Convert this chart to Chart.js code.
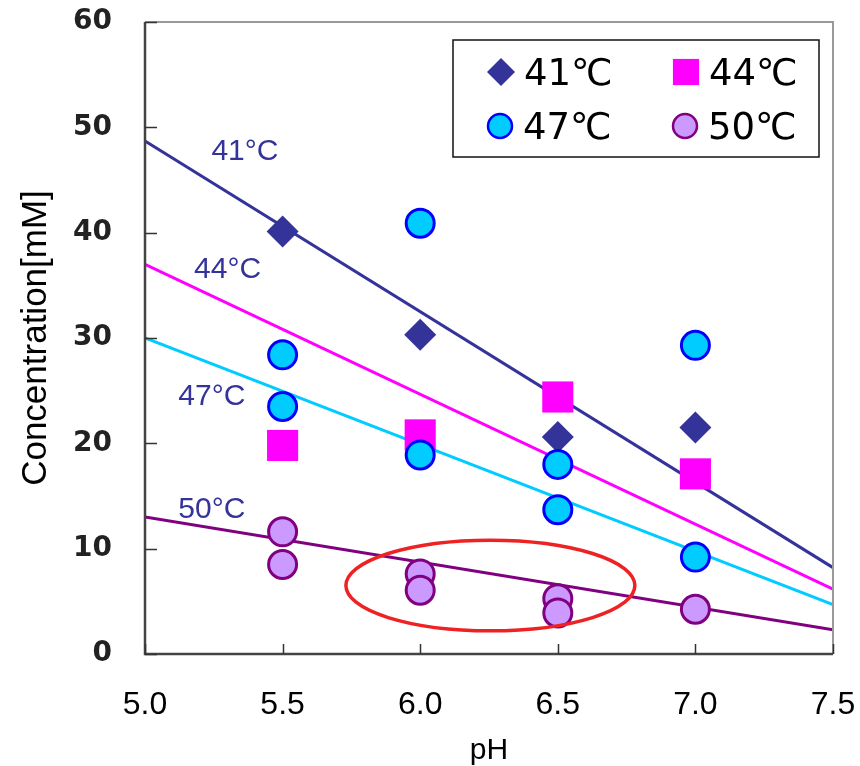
<!DOCTYPE html>
<html>
<head>
<meta charset="utf-8">
<script src="https://cdn.jsdelivr.net/npm/chart.js@4.4.1/dist/chart.umd.min.js"></script>
<style>
  body { margin: 0; background: #fff; }
  canvas { display: block; }
</style>
</head>
<body>
<canvas id="chart" width="860" height="766"></canvas>
<script>
// measured values (pH vs concentration, mM)
const phValues = [5.5, 6.0, 6.5, 7.0];
const conc41 = [40.1, 30.3, 20.6, 21.5];
const conc44 = [19.8, 20.8, 24.4, 17.1];
const conc47High = [28.4, 40.9, 18.0, 29.3];
const conc47Low = [23.5, 18.9, 13.7, 9.2];
const conc50High = [11.6, 7.6, 5.25, 4.25];
const conc50Low = [8.5, 6.05, 3.9, null];

// fitted trend lines, value at pH 5.0 and 7.5
const trendPh = [5.0, 7.5];
const trend41 = [48.7, 8.2];
const trend44 = [37.0, 6.15];
const trend47 = [30.0, 4.7];
const trend50 = [13.0, 2.3];

const seriesNames = ["41℃", "44℃", "47℃", "50℃"];
const lineNames = ["41°C", "44°C", "47°C", "50°C"];
const yTicks = [0, 10, 20, 30, 40, 50, 60];
const xTicks = [5.0, 5.5, 6.0, 6.5, 7.0, 7.5];

const NAVY = "#333399", MAGENTA = "#ff00ff", CYAN = "#00ccff", PURPLE = "#800080";

let pts = (ys) => phValues.map((x, i) => ({ x, y: ys[i] })).filter(p => p.y != null);
let pairs = (hi, lo) => {
    let out = [];
    phValues.forEach((x, i) => {
        if (hi[i] != null) out.push({ x, y: hi[i] });
        if (lo[i] != null) out.push({ x, y: lo[i] });
    });
    return out;
};
let trend = (ys) => trendPh.map((x, i) => ({ x, y: ys[i] }));

function lineDs(ys, color) {
    return {
        type: "line", data: trend(ys), borderColor: color, borderWidth: 3,
        pointRadius: 0, fill: false, order: 10
    };
}

// annotation layer: frame, inner ticks, labels on lines, ellipse, legend
const decor = {
    id: "decor",
    afterDatasetsDraw(chart) {
        const ctx = chart.ctx, xs = chart.scales.x, ys = chart.scales.y;
        const a = chart.chartArea;
        ctx.save();

        // ellipse around the low 50℃ points
        let cx = xs.getPixelForValue(6.255), cy = ys.getPixelForValue(6.5);
        let rx = xs.getPixelForValue(6.78) - cx, ry = cy - ys.getPixelForValue(10.8);
        ctx.beginPath();
        ctx.ellipse(cx, cy, rx, ry, 0, 0, Math.PI * 2);
        ctx.strokeStyle = "#ee2222";
        ctx.lineWidth = 3.5;
        ctx.stroke();

        // frame
        ctx.lineWidth = 2;
        ctx.strokeStyle = "#999";
        ctx.beginPath();
        ctx.moveTo(a.left, a.top); ctx.lineTo(a.right, a.top); ctx.lineTo(a.right, a.bottom);
        ctx.stroke();
        ctx.strokeStyle = "#444";
        ctx.lineWidth = 2.5;
        ctx.beginPath();
        ctx.moveTo(a.left, a.top); ctx.lineTo(a.left, a.bottom); ctx.lineTo(a.right, a.bottom);
        ctx.stroke();

        // ticks pointing inward
        ctx.lineWidth = 1.5;
        ctx.strokeStyle = "#333";
        ctx.beginPath();
        yTicks.forEach(v => {
            let y = Math.round(ys.getPixelForValue(v)) + 0.5;
            ctx.moveTo(a.left, y); ctx.lineTo(a.left + 12, y);
        });
        xTicks.forEach(v => {
            let x = Math.round(xs.getPixelForValue(v)) + 0.5;
            ctx.moveTo(x, a.bottom); ctx.lineTo(x, a.bottom - 10);
        });
        ctx.stroke();

        // line labels
        const labelAt = [[5.363, 47.7], [5.30, 36.5], [5.243, 24.4], [5.243, 13.7]];
        ctx.fillStyle = NAVY;
        ctx.font = "30px 'Liberation Sans', Arial, sans-serif";
        ctx.textAlign = "center";
        ctx.textBaseline = "middle";
        lineNames.forEach((t, i) => {
            ctx.fillText(t, xs.getPixelForValue(labelAt[i][0]), ys.getPixelForValue(labelAt[i][1]));
        });

        // legend box
        ctx.fillStyle = "#fff";
        ctx.fillRect(453, 40, 366, 117);
        ctx.strokeStyle = "#111";
        ctx.lineWidth = 1.5;
        ctx.strokeRect(453, 40, 366, 117);
        const marks = [
            { x: 501, y: 72, style: "rectRot", r: 14, fill: NAVY, stroke: NAVY, bw: 0 },
            { x: 686, y: 72, style: "rect", r: 18.5, fill: MAGENTA, stroke: MAGENTA, bw: 0 },
            { x: 500, y: 126, style: "circle", r: 12, fill: CYAN, stroke: "#0000ff", bw: 2.5 },
            { x: 685, y: 126, style: "circle", r: 12, fill: "#cc99ff", stroke: PURPLE, bw: 2.5 }
        ];
        ctx.font = "37px 'DejaVu Sans', 'Noto Sans CJK JP', sans-serif";
        ctx.textAlign = "left";
        ctx.textBaseline = "alphabetic";
        marks.forEach((m, i) => {
            ctx.fillStyle = m.fill;
            ctx.strokeStyle = m.stroke;
            ctx.lineWidth = m.bw;
            Chart.helpers.drawPoint(ctx, { pointStyle: m.style, radius: m.r, rotation: 0, borderWidth: m.bw }, m.x, m.y);
            ctx.fillStyle = "#000";
            ctx.fillText(seriesNames[i], m.x + 23, m.y + 13);
        });

        ctx.restore();
    }
};

// invisible tick marks keep the labels away from the axis without
// growing the scale padding the way ticks.padding does
const hiddenTicks = (len) => ({
    display: true, drawOnChartArea: false, drawTicks: true,
    tickLength: len, color: "rgba(0,0,0,0)", tickColor: "rgba(0,0,0,0)"
});

new Chart(document.getElementById("chart"), {
    type: "scatter",
    data: {
        datasets: [
            {
                label: seriesNames[2], data: pairs(conc47High, conc47Low), order: 1,
                pointStyle: "circle", pointRadius: 14, pointBorderWidth: 3,
                backgroundColor: CYAN, borderColor: "#0000ff"
            },
            {
                label: seriesNames[1], data: pts(conc44), order: 2,
                pointStyle: "rect", pointRadius: 22, pointBorderWidth: 0,
                backgroundColor: MAGENTA, borderColor: MAGENTA
            },
            {
                label: seriesNames[0], data: pts(conc41), order: 3,
                pointStyle: "rectRot", pointRadius: 16, pointBorderWidth: 0,
                backgroundColor: NAVY, borderColor: NAVY
            },
            {
                label: seriesNames[3], data: pairs(conc50High, conc50Low), order: 4,
                pointStyle: "circle", pointRadius: 14, pointBorderWidth: 3,
                backgroundColor: "#cc99ff", borderColor: PURPLE
            },
            lineDs(trend41, NAVY),
            lineDs(trend44, MAGENTA),
            lineDs(trend47, CYAN),
            lineDs(trend50, PURPLE)
        ]
    },
    options: {
        responsive: false,
        animation: false,
        events: [],
        layout: { padding: { top: 20, right: 27, left: 0, bottom: 0 } },
        plugins: { legend: { display: false }, tooltip: { enabled: false } },
        scales: {
            x: {
                type: "linear", min: 5, max: 7.5,
                afterFit: s => { s.height = 112; },
                afterBuildTicks: s => { s.ticks = xTicks.map(v => ({ value: v })); },
                grid: hiddenTicks(32),
                border: { display: false },
                ticks: {
                    padding: 0, color: "#000", maxRotation: 0,
                    font: { family: "'Liberation Sans Narrow', 'Liberation Sans', sans-serif", size: 32 },
                    callback: v => v.toFixed(1)
                },
                title: {
                    display: true, text: "pH", color: "#000",
                    font: { family: "'Liberation Sans Narrow', 'Liberation Sans', sans-serif", size: 30, lineHeight: 1 },
                    padding: { top: 0, bottom: 0 }
                }
            },
            y: {
                min: 0, max: 60,
                afterFit: s => { s.width = 145; },
                afterBuildTicks: s => { s.ticks = yTicks.map(v => ({ value: v })); },
                grid: hiddenTicks(33),
                border: { display: false },
                ticks: {
                    padding: 0, color: "#222",
                    font: { family: "'DejaVu Sans', sans-serif", size: 28, weight: "bold" }
                },
                title: {
                    display: true, text: "Concentration[mM]", color: "#000",
                    font: { family: "'Liberation Sans', Arial, sans-serif", size: 35, lineHeight: 1.2 },
                    padding: { top: 15, bottom: 0 }
                }
            }
        }
    },
    plugins: [decor]
});
</script>
</body>
</html>
